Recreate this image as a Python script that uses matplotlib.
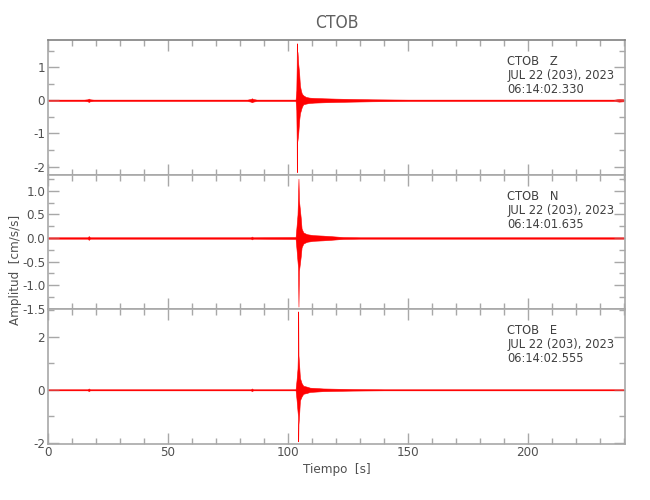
import matplotlib
matplotlib.use("Agg")
import matplotlib.pyplot as plt
from matplotlib.ticker import MultipleLocator, FormatStrFormatter

plt.rcParams['font.family'] = ['DejaVu Sans']
plt.rcParams['font.stretch'] = 'condensed'

# envelope of each trace (time in s, acceleration in cm/s/s)
z_time = [0, 15, 16.5, 17, 17.5, 19, 83, 84.5, 85, 85.5, 87, 103.2, 103.5, 103.65, 103.7, 103.75,
          104.0, 104.3, 104.7, 105.0, 105.4, 105.8, 106.4, 107.5, 109, 111, 115, 120, 127, 135, 150,
          236, 238, 240]
z_upper = [0.02, 0.02, 0.03, 0.05, 0.03, 0.02, 0.02, 0.04, 0.06, 0.04, 0.02, 0.02, 0.3, 1.0, 1.72, 1.5,
           1.45, 1.1, 0.8, 0.45, 0.3, 0.2, 0.15, 0.1, 0.08, 0.07, 0.06, 0.05, 0.04, 0.03, 0.02,
           0.02, 0.04, 0.03]
z_lower = [-0.02, -0.02, -0.03, -0.05, -0.03, -0.02, -0.02, -0.04, -0.06, -0.04, -0.02, -0.02, -0.3, -1.2, -2.17, -1.3,
           -1.2, -1.0, -0.6, -0.4, -0.3, -0.2, -0.12, -0.1, -0.08, -0.07, -0.06, -0.05, -0.04, -0.03, -0.02,
           -0.02, -0.04, -0.03]

n_time = [0, 16.5, 17, 17.5, 84.5, 85, 85.5, 103.2, 103.6, 104.0, 104.2, 104.4, 104.6, 104.8,
          105.3, 105.7, 106.4, 107.1, 108, 110.6, 114.7, 117.5, 123, 130, 240]
n_upper = [0.015, 0.015, 0.04, 0.015, 0.015, 0.03, 0.015, 0.02, 0.25, 0.5, 0.85, 1.26, 0.8, 0.7,
           0.45, 0.2, 0.12, 0.1, 0.08, 0.06, 0.05, 0.04, 0.02, 0.015, 0.015]
n_lower = [-0.015, -0.015, -0.04, -0.015, -0.015, -0.03, -0.015, -0.02, -0.25, -0.5, -0.62, -1.46, -0.7, -0.62,
           -0.41, -0.2, -0.12, -0.1, -0.08, -0.06, -0.05, -0.04, -0.02, -0.015, -0.015]

e_time = [0, 16.5, 17, 17.5, 84.5, 85, 85.5, 103.2, 103.6, 104.0, 104.2, 104.3, 104.4, 104.7,
          105.0, 105.7, 106.4, 107.8, 109.2, 114.7, 120.3, 127, 140, 240]
e_upper = [0.02, 0.02, 0.05, 0.02, 0.02, 0.05, 0.02, 0.02, 0.37, 0.8, 1.6, 2.95, 1.3, 0.9,
           0.45, 0.25, 0.15, 0.12, 0.08, 0.05, 0.04, 0.03, 0.02, 0.02]
e_lower = [-0.02, -0.02, -0.05, -0.02, -0.02, -0.05, -0.02, -0.02, -0.37, -0.8, -1.0, -1.94, -1.3, -0.9,
           -0.4, -0.25, -0.15, -0.12, -0.08, -0.05, -0.04, -0.03, -0.02, -0.02]

labels = ["CTOB   Z\nJUL 22 (203), 2023\n06:14:02.330",
          "CTOB   N\nJUL 22 (203), 2023\n06:14:01.635",
          "CTOB   E\nJUL 22 (203), 2023\n06:14:02.555"]

traces = [(z_time, z_upper, z_lower), (n_time, n_upper, n_lower), (e_time, e_upper, e_lower)]
ylims = [(-2.24, 1.82), (-1.51, 1.35), (-2.02, 3.04)]
ymajor = [1, 0.5, 2]
yminor = [0.5, 0.25, 1]
yfmt = ['%d', '%.1f', '%d']

fig = plt.figure(figsize=(6.5, 5), dpi=100)
left, width, height = 48 / 650, 577 / 650, 134.5 / 500
bottoms = [1 - 174.5 / 500, 1 - 309 / 500, 1 - 443.5 / 500]
grey = '#a8a8a8'
txt = '#505050'

for i, (t, up, lo) in enumerate(traces):
    ax = fig.add_axes([left, bottoms[i], width, height])
    ax.fill_between(t, lo, up, color='red', lw=0.4)
    ax.plot([0, 240], [0, 0], color='red', lw=0.5)
    ax.set_xlim(0, 240.5)
    ax.set_ylim(*ylims[i])
    ax.xaxis.set_major_locator(MultipleLocator(50))
    ax.xaxis.set_minor_locator(MultipleLocator(10))
    ax.yaxis.set_major_locator(MultipleLocator(ymajor[i]))
    ax.yaxis.set_minor_locator(MultipleLocator(yminor[i]))
    ax.yaxis.set_major_formatter(FormatStrFormatter(yfmt[i]))
    ax.tick_params(which='both', direction='in', top=True, right=True, color=grey,
                   labelcolor=txt, labelsize=9.5, pad=2)
    ax.tick_params(which='major', length=8, width=1)
    ax.tick_params(which='minor', length=4, width=1)
    for s in ax.spines.values():
        s.set_color(grey)
        s.set_linewidth(1.2)
    if i == 0:
        ax.spines['top'].set_color('#808080')
    if i < 2:
        ax.tick_params(labelbottom=False)
    else:
        ax.set_xlabel('Tiempo  [s]', color=txt, fontsize=9.5, labelpad=3)
    ax.text(0.796, 0.885, labels[i], transform=ax.transAxes, va='top', ha='left',
            fontsize=9.2, color='#404040', linespacing=1.1)

fig.text(336.5 / 650, 0.955, 'CTOB', ha='center', va='center', fontsize=12.5, color='#606060')
fig.text(0.024, 0.46, 'Amplitud  [cm/s/s]', rotation=90, ha='center', va='center',
         fontsize=9.5, color=txt)

fig.savefig('out.png', dpi=100)
